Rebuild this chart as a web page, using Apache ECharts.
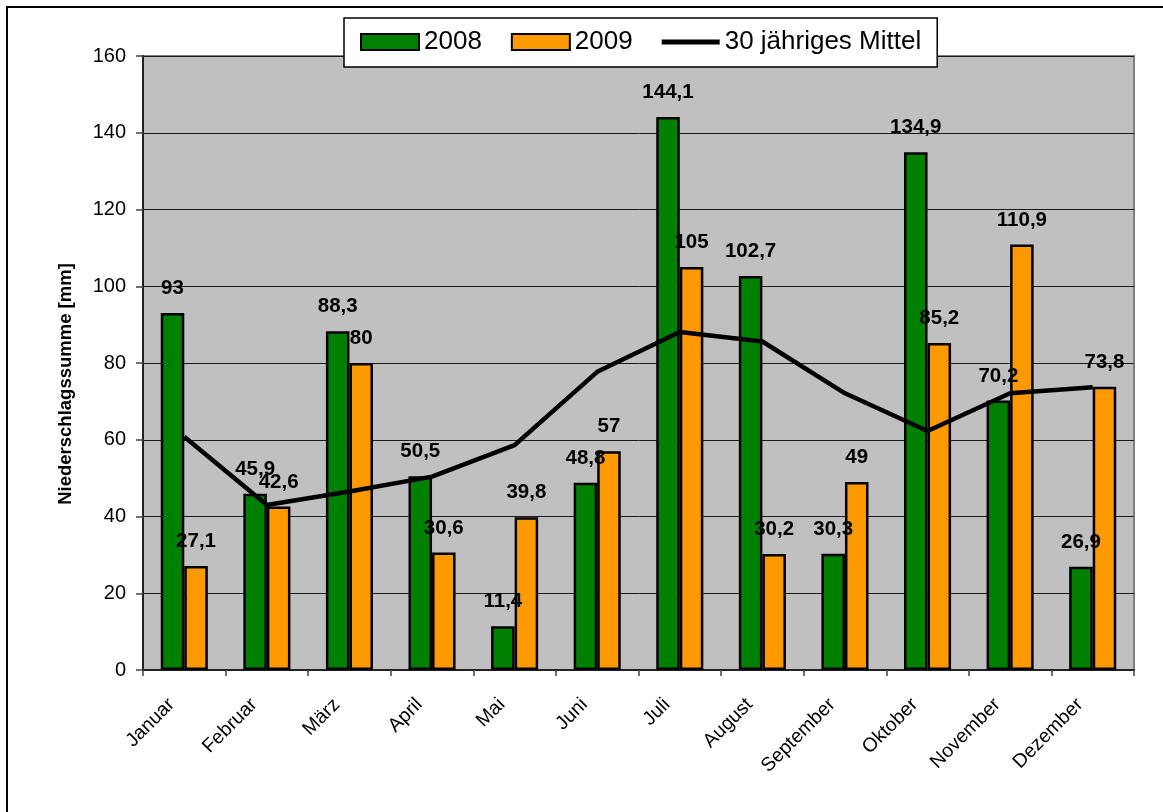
<!DOCTYPE html>
<html>
<head>
<meta charset="utf-8">
<title>Niederschlagssumme 2008 / 2009</title>
<script src="https://cdn.jsdelivr.net/npm/echarts@6/dist/echarts.min.js"></script>
<style>
  html, body { margin: 0; padding: 0; background: #ffffff; }
  #chart { width: 1163px; height: 812px; }
</style>
</head>
<body>
<div id="chart"></div>
<script>
// Monthly precipitation totals [mm]
const months = ['Januar', 'Februar', 'März', 'April', 'Mai', 'Juni', 'Juli',
  'August', 'September', 'Oktober', 'November', 'Dezember'];
const values2008 = [93, 45.9, 88.3, 50.5, 11.4, 48.8, 144.1, 102.7, 30.3, 134.9, 70.2, 26.9];
const values2009 = [27.1, 42.6, 80, 30.6, 39.8, 57, 105, 30.2, 49, 85.2, 110.9, 73.8];
// 30-year long-term monthly mean
const mean30 = [60.8, 43.0, 46.5, 50.4, 58.6, 77.7, 88.1, 85.6, 72.1, 62.3, 72.1, 73.7];
const yTicks = { min: 0, max: 160, step: 20 };

const FONT = 'Liberation Sans, Arial, sans-serif';
const fmtDE = v => String(v).replace('.', ',');

const barLabel = {
  show: true,
  position: 'top',
  distance: 14,
  color: '#000',
  fontFamily: FONT,
  fontWeight: 'bold',
  fontSize: 20.5,
  formatter: p => fmtDE(p.value)
};

const chart = echarts.init(document.getElementById('chart'), null, { renderer: 'canvas' });

chart.setOption({
  animation: false,
  backgroundColor: '#ffffff',
  textStyle: { fontFamily: FONT },
  graphic: [{
    type: 'rect',
    shape: { x: 7, y: 7, width: 1200, height: 900 },
    style: { fill: 'none', stroke: '#000', lineWidth: 2 },
    silent: true,
    z: 100
  }],
  legend: {
    left: 344,
    top: 18,
    padding: [11, 16, 12, 16],
    itemGap: 29,
    itemWidth: 58,
    itemHeight: 16,
    backgroundColor: '#ffffff',
    borderColor: '#000',
    borderWidth: 1.5,
    textStyle: { fontFamily: FONT, fontSize: 26, color: '#000' },
    data: [
      { name: '2008', icon: 'rect' },
      { name: '2009', icon: 'rect' },
      {
        name: '30 jähriges Mittel',
        icon: 'path://M0,0 H58 V5 H0 Z',
        itemStyle: { color: '#000', borderWidth: 0 }
      }
    ]
  },
  grid: {
    left: 143,
    right: 29,
    top: 56,
    bottom: 142,
    show: true,
    backgroundColor: '#C0C0C0',
    borderColor: '#808080',
    borderWidth: 2
  },
  xAxis: {
    type: 'category',
    data: months,
    boundaryGap: true,
    axisLine: { lineStyle: { color: '#222', width: 2 } },
    axisTick: { show: true, inside: false, length: 6, alignWithLabel: false, lineStyle: { color: '#444', width: 1.5 } },
    axisLabel: {
      rotate: 45,
      margin: 19,
      padding: [0, 18, 0, 0],
      fontFamily: FONT,
      fontSize: 19.5,
      color: '#000',
      interval: 0
    }
  },
  yAxis: {
    type: 'value',
    min: yTicks.min,
    max: yTicks.max,
    interval: yTicks.step,
    name: 'Niederschlagssumme [mm]',
    nameLocation: 'middle',
    nameGap: 68,
    nameRotate: 90,
    nameTextStyle: {
      fontFamily: FONT,
      fontWeight: 'bold',
      fontSize: 18.5,
      color: '#000',
      padding: [0, 42, 0, 0]
    },
    axisLine: { show: true, lineStyle: { color: '#222', width: 2 } },
    axisTick: { show: true, inside: false, length: 7, lineStyle: { color: '#444', width: 1.5 } },
    axisLabel: { margin: 17, fontFamily: FONT, fontSize: 20, color: '#000' },
    splitLine: { show: true, lineStyle: { color: '#1a1a1a', width: 1 } }
  },
  series: [
    {
      name: '2008',
      type: 'bar',
      data: values2008,
      barGap: '0%',
      barCategoryGap: '43%',
      itemStyle: { color: '#008000', borderColor: '#000', borderWidth: 2.5 },
      label: barLabel,
      z: 2
    },
    {
      name: '2009',
      type: 'bar',
      data: values2009,
      barGap: '0%',
      barCategoryGap: '43%',
      itemStyle: { color: '#FF9900', borderColor: '#000', borderWidth: 2.5 },
      label: barLabel,
      z: 2
    },
    {
      name: '30 jähriges Mittel',
      type: 'line',
      data: mean30,
      symbol: 'none',
      showSymbol: false,
      lineStyle: { color: '#000', width: 4.5 },
      itemStyle: { color: '#000' },
      z: 3
    }
  ]
});
</script>
</body>
</html>
